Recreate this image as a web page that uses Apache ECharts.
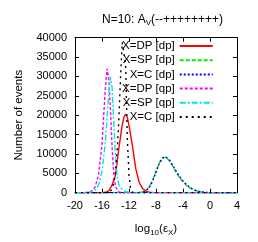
<!DOCTYPE html>
<html><head><meta charset="utf-8">
<script src="https://cdn.jsdelivr.net/npm/echarts@6/dist/echarts.min.js"></script>
<style>html,body{margin:0;padding:0;background:#fff}#c{width:258px;height:242px}</style>
</head><body><div id="c"></div>
<script>
var seriesNames = ['X=DP [dp]', 'X=SP [dp]', 'X=C [dp]', 'X=DP [qp]', 'X=SP [qp]', 'X=C [qp]'];
var xTicks = [-20, -16, -12, -8, -4, 0, 4];
var yTicks = [0, 5000, 10000, 15000, 20000, 25000, 30000, 35000, 40000];

var dpDP = [[-20,0],[-16,0],[-15.5,100],[-15,500],[-14.5,2000],[-14,4500],[-13.5,11500],[-13,17500],[-12.75,19500],[-12.5,20200],[-12.25,19500],[-12,17300],[-11.5,12200],[-11,6200],[-10.5,2700],[-10,1100],[-9.5,400],[-9,150],[-8.5,50],[-8,0],[4,0]];
var dpSP = [[-20,0],[-11,0],[-10,150],[-9.5,500],[-9,1500],[-8.5,3200],[-8,5600],[-7.5,7800],[-7,9100],[-6.75,9300],[-6.5,9100],[-6,8200],[-5.5,6800],[-5,5200],[-4.5,3900],[-4,2800],[-3.5,1900],[-3,1250],[-2.5,780],[-2,450],[-1.5,250],[-1,120],[-0.5,50],[0,20],[1,0],[4,0]];
var dpC = [[-20,0],[-11,0],[-10,120],[-9.5,450],[-9,1350],[-8.5,3000],[-8,5300],[-7.5,7600],[-7,9000],[-6.75,9250],[-6.5,9150],[-6,8400],[-5.5,7000],[-5,5500],[-4.5,4150],[-4,3000],[-3.5,2100],[-3,1400],[-2.5,880],[-2,520],[-1.5,280],[-1,140],[-0.5,60],[0,25],[1,0],[4,0]];
var qpDP = [[-20,0],[-19,0],[-18,100],[-17.5,500],[-17,1500],[-16.5,4800],[-16,12500],[-15.75,20000],[-15.5,27000],[-15.25,32000],[-15,29500],[-14.75,21500],[-14.5,11500],[-14.25,4800],[-14,1500],[-13.5,200],[-13,0],[4,0]];
var qpSP = [[-20,0],[-18.5,0],[-17.5,200],[-17,700],[-16.5,2000],[-16,5500],[-15.5,13000],[-15.25,19500],[-15,25500],[-14.75,29900],[-14.5,27000],[-14.25,18000],[-14,9000],[-13.75,4200],[-13.5,2000],[-13,800],[-12.5,300],[-12,100],[-11,0],[4,0]];
var qpC = [[-20,0],[-15,0],[-14.75,200],[-14.5,900],[-14.25,2500],[-14,5200],[-13.75,11000],[-13.5,19000],[-13.25,30000],[-13,38800],[-12.75,39000],[-12.5,33000],[-12.25,14000],[-12,4500],[-11.75,900],[-11.5,100],[-11,0],[4,0]];

var allData = [dpDP, dpSP, dpC, qpDP, qpSP, qpC];
var colors = ['#ff0000', '#00ee00', '#0000ff', '#ff00ff', '#00e5e5', '#000000'];
var dashes = ['solid', [4, 2], [2, 2], [3, 2], [6, 2, 2, 2], [2, 4]];

var font = 'Liberation Sans, Arial, sans-serif';
var chart = echarts.init(document.getElementById('c'), null, {renderer: 'canvas'});

var series = allData.map(function (d, i) {
  return {
    name: seriesNames[i], type: 'line', data: d, showSymbol: false, symbol: 'none',
    xAxisIndex: 0, yAxisIndex: 0, animation: false,
    lineStyle: {color: colors[i], width: 1.4, type: dashes[i]},
    itemStyle: {color: colors[i]}
  };
});

var commonX = {type: 'value', min: -20, max: 4, interval: 4, splitLine: {show: false},
  axisLine: {show: true, onZero: false, lineStyle: {color: '#000', width: 1}},
  axisTick: {show: true, inside: true, length: 4, lineStyle: {color: '#000'}}};
var commonY = {type: 'value', min: 0, max: 40000, interval: 5000, splitLine: {show: false},
  axisLine: {show: true, onZero: false, lineStyle: {color: '#000', width: 1}},
  axisTick: {show: true, inside: true, length: 4, lineStyle: {color: '#000'}}};

chart.setOption({
  animation: false,
  title: {
    text: '{a|N=10: A}{s|V}{a|(--++++++++)}',
    left: 97, top: 8,
    textStyle: {fontWeight: 'normal', rich: {
      a: {fontFamily: font, fontSize: 12, fontWeight: 'normal', color: '#000'},
      s: {fontFamily: font, fontSize: 8, fontWeight: 'normal', color: '#000', verticalAlign: 'bottom', padding: [6, 0, 0, 0]}
    }}
  },
  legend: {
    orient: 'vertical', left: 122, top: 40, padding: 0, itemGap: 2.2,
    itemWidth: 33, itemHeight: 10, align: 'right',
    itemStyle: {opacity: 0},
    data: seriesNames,
    formatter: function (n) { return '{t|' + n + '}'; },
    textStyle: {rich: {t: {width: 61, align: 'right', fontFamily: font, fontSize: 11.5, color: '#000'}}}
  },
  grid: {left: 75, right: 21, top: 37.7, bottom: 49.3, containLabel: false},
  xAxis: [
    Object.assign({}, commonX, {
      position: 'bottom',
      axisLabel: {show: true, margin: 8, fontFamily: font, fontSize: 11, color: '#000',
        formatter: function (v) { return xTicks.indexOf(v) >= 0 ? String(v) : ''; }},
      name: '{a|log}{s|10}{a|(ε}{s|X}{a|)}', nameLocation: 'middle', nameGap: 29,
      nameTextStyle: {rich: {
        a: {fontFamily: font, fontSize: 11.5, color: '#000'},
        s: {fontFamily: font, fontSize: 8, color: '#000', verticalAlign: 'top', padding: [7, 0, 0, 0]}
      }}
    }),
    Object.assign({}, commonX, {position: 'top', axisLabel: {show: false}})
  ],
  yAxis: [
    Object.assign({}, commonY, {
      position: 'left',
      axisLabel: {show: true, margin: 8, fontFamily: font, fontSize: 11, color: '#000',
        formatter: function (v) { return yTicks.indexOf(v) >= 0 ? String(v) : ''; }},
      name: 'Number of events', nameLocation: 'middle', nameGap: 50,
      nameTextStyle: {fontFamily: font, fontSize: 11.5, color: '#000'}
    }),
    Object.assign({}, commonY, {position: 'right', axisLabel: {show: false}})
  ],
  series: series
});
</script>
</body></html>
